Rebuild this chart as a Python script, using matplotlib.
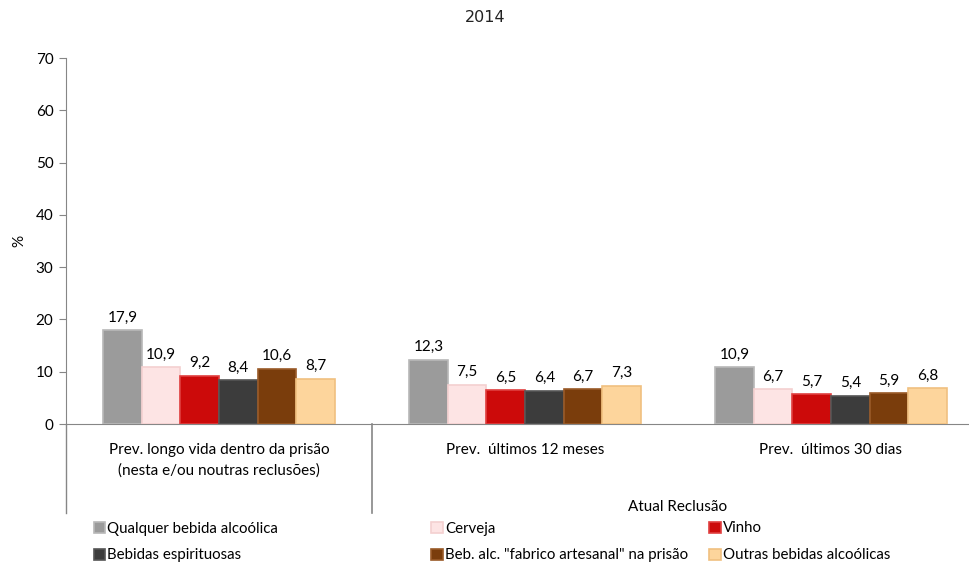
import numpy as np
import matplotlib
matplotlib.use("Agg")
import matplotlib.pyplot as plt

plt.rcParams["font.family"] = ["Lato", "DejaVu Sans"]

# dados
grupos = ["Prev. longo vida dentro da prisão\n(nesta e/ou noutras reclusões)",
          "Prev.  últimos 12 meses",
          "Prev.  últimos 30 dias"]
bebidas = ["Qualquer bebida alcoólica", "Cerveja", "Vinho",
           "Bebidas espirituosas", 'Beb. alc. "fabrico artesanal" na prisão',
           "Outras bebidas alcoólicas"]
qualquer = [17.9, 12.3, 10.9]
cerveja = [10.9, 7.5, 6.7]
vinho = [9.2, 6.5, 5.7]
espirituosas = [8.4, 6.4, 5.4]
artesanal = [10.6, 6.7, 5.9]
outras = [8.7, 7.3, 6.8]
series = [qualquer, cerveja, vinho, espirituosas, artesanal, outras]
cores = ["#9b9b9b", "#fde4e4", "#cc0a0a", "#3c3c3c", "#7a3d0c", "#fdd59c"]
bordas = ["#b8b8b8", "#f4d0d0", "#e04040", "#555555", "#9a5a28", "#f0c080"]

fig = plt.figure(figsize=(9.7, 5.64), dpi=100)
ax = fig.add_axes([66/970, 1-424/564, 1-66/970, (424-58)/564])

x = np.arange(len(grupos))
w = 0.126
barras = []
for i, vals in enumerate(series):
    pos = x + (i - 2.5) * w
    b = ax.bar(pos, vals, w, color=cores[i], edgecolor=bordas[i], linewidth=1.2,
               label=bebidas[i], zorder=3)
    barras.append(b)
    for p, v in zip(pos, vals):
        ax.annotate(f"{v:.1f}".replace(".", ","), (p, v), xytext=(0, 4),
                    textcoords="offset points", ha="center", va="bottom", fontsize=11)

ax.set_xlim(-0.5, -0.5 + (970-66)/306)
ax.set_ylim(0, 70)
ax.set_yticks(range(0, 71, 10))
ax.set_xticks(x)
ax.set_xticklabels(grupos, linespacing=1.5, fontsize=11)
ax.tick_params(axis="x", length=0, pad=14)
ax.tick_params(axis="y", length=5, color="#868686", labelsize=11, pad=4)
for s in ["top", "right"]:
    ax.spines[s].set_visible(False)
for s in ["left", "bottom"]:
    ax.spines[s].set_color("#868686")

# linhas divisórias das categorias
ax.plot([-0.5, -0.5], [0, -17], color="#868686", lw=1, clip_on=False)
ax.plot([0.5, 0.5], [0, -17], color="#868686", lw=1.2, clip_on=False)
ax.text(1.5, -15.9, "Atual Reclusão", ha="center", va="center", fontsize=11)

ax.set_ylabel("%", fontsize=11, labelpad=7)
fig.text(485/970, 1-18/564, "2014", ha="center", va="center", fontsize=11.5,
         family=["DejaVu Sans"], color="#222222")

# legenda em três colunas
colunas_x = [86, 424, 702]
for c in range(3):
    hs = [barras[c], barras[c + 3]]
    lg = fig.legend(hs, [bebidas[c], bebidas[c + 3]], loc="upper left",
                    bbox_to_anchor=(colunas_x[c]/970, 1-514/564), frameon=False,
                    fontsize=10.8, handlelength=0.75, handleheight=0.75,
                    handletextpad=0.15, labelspacing=0.85, borderpad=0)

fig.savefig("out.png", dpi=100)
